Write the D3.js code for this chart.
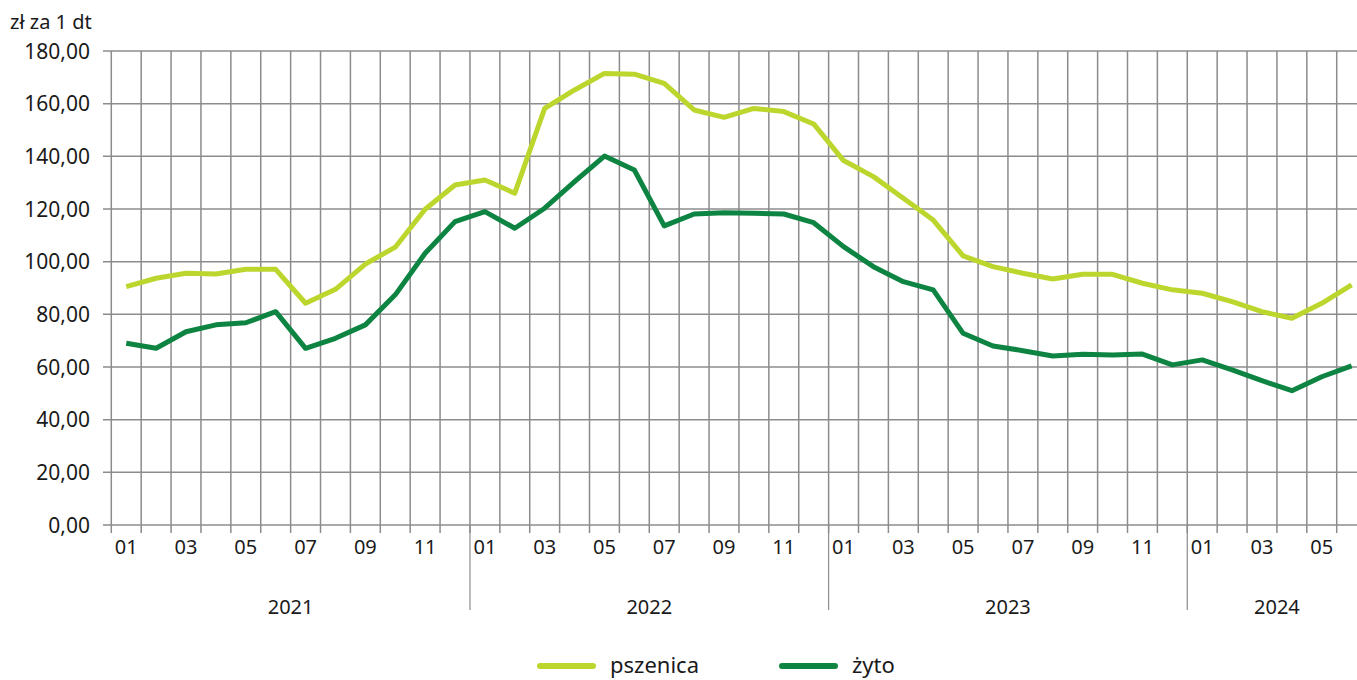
<!DOCTYPE html>
<html>
<head>
<meta charset="utf-8">
<script src="https://cdn.jsdelivr.net/npm/d3@7"></script>
<style>
  body { margin: 0; background: #fff; }
  svg { display: block; font-family: "Noto Sans", sans-serif; }
</style>
</head>
<body>
<svg id="chart" width="1357" height="680"></svg>
<script>
// months 2021-01 .. 2024-06
const years = [2021, 2022, 2023, 2024];
const monthsPerYear = [12, 12, 12, 6];
const yTicks = [0, 20, 40, 60, 80, 100, 120, 140, 160, 180];

const pszenica = [
  90.5, 93.7, 95.6, 95.3, 97.1, 97.1, 84.2, 89.5, 99.1, 105.5, 119.9, 129.1,
  131.0, 126.0, 158.2, 165.2, 171.5, 171.2, 167.7, 157.6, 154.8, 158.2, 157.0, 152.3,
  138.4, 132.3, 124.1, 115.8, 102.2, 98.1, 95.6, 93.4, 95.2, 95.2, 91.8, 89.3,
  88.0, 84.8, 81.0, 78.5, 84.2, 91.2
];
const zyto = [
  69.0, 67.1, 73.4, 76.0, 76.8, 81.0, 67.1, 70.9, 76.0, 87.4, 103.2, 115.2,
  119.0, 112.7, 120.3, 130.4, 140.1, 134.8, 113.6, 118.1, 118.6, 118.4, 118.1, 114.8,
  105.7, 98.1, 92.4, 89.3, 72.8, 68.0, 66.2, 64.2, 64.8, 64.6, 64.9, 60.8,
  62.7, 58.9, 54.8, 51.0, 56.3, 60.4
];

const series = [
  { name: "pszenica", values: pszenica, color: "#bdd62e" },
  { name: "żyto", values: zyto, color: "#0e8442" }
];

const svg = d3.select("#chart");
const nMonths = d3.sum(monthsPerYear);

const x = d3.scaleLinear().domain([0, nMonths]).range([111.3, 1366.6]);
const y = d3.scaleLinear().domain([0, 180]).range([525, 51]);

const gridColor = "#8c8c8c";

// horizontal grid
svg.append("g")
  .selectAll("line")
  .data(yTicks)
  .join("line")
  .attr("x1", 103)
  .attr("x2", 1357)
  .attr("y1", d => y(d))
  .attr("y2", d => y(d))
  .attr("stroke", gridColor)
  .attr("stroke-width", 1.5);

// vertical grid + ticks below axis
let boundaries = d3.range(0, nMonths + 1);
svg.append("g")
  .selectAll("line")
  .data(boundaries)
  .join("line")
  .attr("x1", d => x(d))
  .attr("x2", d => x(d))
  .attr("y1", y(180))
  .attr("y2", 533)
  .attr("stroke", gridColor)
  .attr("stroke-width", 1.5);

// year separators
let yearStarts = [];
let acc = 0;
monthsPerYear.forEach(m => { yearStarts.push(acc); acc += m; });

svg.append("g")
  .selectAll("line")
  .data(yearStarts.slice(1))
  .join("line")
  .attr("x1", d => x(d))
  .attr("x2", d => x(d))
  .attr("y1", 525)
  .attr("y2", 610)
  .attr("stroke", gridColor)
  .attr("stroke-width", 1.2);

// y labels
svg.append("g")
  .selectAll("text")
  .data(yTicks)
  .join("text")
  .attr("x", 90)
  .attr("y", d => y(d))
  .attr("dy", "0.36em")
  .attr("text-anchor", "end")
  .attr("font-size", "21px")
  .attr("fill", "#1a1a1a")
  .text(d => d3.format(".2f")(d).replace(".", ","));

svg.append("text")
  .attr("x", 10)
  .attr("y", 29)
  .attr("font-size", "20px")
  .attr("fill", "#1a1a1a")
  .text("zł za 1 dt");

// month labels
let monthLabels = [];
years.forEach((yr, yi) => {
  for (let m = 1; m <= monthsPerYear[yi]; m += 2) {
    monthLabels.push({ idx: yearStarts[yi] + m - 1, label: String(m).padStart(2, "0") });
  }
});

svg.append("g")
  .selectAll("text")
  .data(monthLabels)
  .join("text")
  .attr("x", d => x(d.idx + 0.5))
  .attr("y", 554)
  .attr("text-anchor", "middle")
  .attr("font-size", "20px")
  .attr("fill", "#1a1a1a")
  .text(d => d.label);

// year labels
svg.append("g")
  .selectAll("text")
  .data(years)
  .join("text")
  .attr("x", (d, i) => x(yearStarts[i] + monthsPerYear[i] / 2))
  .attr("y", 614)
  .attr("text-anchor", "middle")
  .attr("font-size", "20px")
  .attr("fill", "#1a1a1a")
  .text(d => d);

// lines
const line = d3.line()
  .x((d, i) => x(i + 0.5))
  .y(d => y(d));

svg.append("g")
  .selectAll("path")
  .data(series)
  .join("path")
  .attr("fill", "none")
  .attr("stroke", d => d.color)
  .attr("stroke-width", 5)
  .attr("stroke-linejoin", "round")
  .attr("d", d => line(d.values));

// legend
const legendX = [540, 782];
const legend = svg.append("g")
  .selectAll("g")
  .data(series)
  .join("g")
  .attr("transform", (d, i) => `translate(${legendX[i]},666)`);

legend.append("line")
  .attr("x1", 0)
  .attr("x2", 53)
  .attr("stroke", d => d.color)
  .attr("stroke-width", 6)
  .attr("stroke-linecap", "round");

legend.append("text")
  .attr("x", 70)
  .attr("y", 7)
  .attr("font-size", "22px")
  .attr("fill", "#1a1a1a")
  .text(d => d.name);
</script>
</body>
</html>
